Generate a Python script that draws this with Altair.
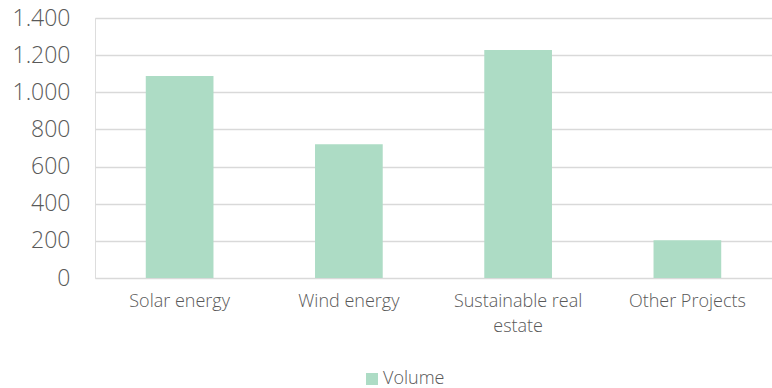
import altair as alt
import pandas as pd

categories = ["Solar energy", "Wind energy", "Sustainable real estate", "Other Projects"]
volume = [1088, 720, 1228, 203]
series_name = "Volume"

df = pd.DataFrame({"category": categories, "value": volume, "series": [series_name] * len(categories)})

FONT = "Open Sans"
TEXT = "#595959"
GRID = "#d9d9d9"
BAR = "#addcc5"

bars = alt.Chart(df).mark_bar(color=BAR).encode(
    x=alt.X(
        "category:N",
        sort=categories,
        title=None,
        scale=alt.Scale(paddingInner=0.6, paddingOuter=0.3),
        axis=alt.Axis(
            labelAngle=0,
            labelFont=FONT,
            labelFontWeight=300,
            labelFontSize=18,
            labelColor=TEXT,
            labelPadding=14,
            labelLineHeight=25,
            ticks=False,
            domain=False,
            grid=False,
            labelExpr="datum.label == 'Sustainable real estate' ? ['Sustainable real', 'estate'] : datum.label",
        ),
    ),
    y=alt.Y(
        "value:Q",
        title=None,
        scale=alt.Scale(domain=[0, 1400]),
        axis=alt.Axis(
            values=[0, 200, 400, 600, 800, 1000, 1200, 1400],
            labelFont=FONT,
            labelFontWeight=300,
            labelFontSize=23,
            labelColor=TEXT,
            labelPadding=25,
            ticks=False,
            domain=False,
            gridColor=GRID,
            gridWidth=1.5,
            labelExpr="replace(format(datum.value, ','), ',', '.')",
        ),
    ),
    fill=alt.Fill(
        "series:N",
        scale=alt.Scale(range=[BAR]),
        legend=alt.Legend(
            title=None,
            orient="none",
            legendX=268,
            legendY=352,
            symbolType="square",
            symbolSize=144,
            symbolStrokeWidth=0,
            labelFont=FONT,
            labelFontWeight=300,
            labelFontSize=18,
            labelColor=TEXT,
            labelOffset=2,
        ),
    ),
)

chart = bars.properties(
    width=677,
    height=260,
    autosize=alt.AutoSizeParams(type="none"),
    padding={"left": 95, "top": 18, "right": 0, "bottom": 110},
).configure_view(stroke=None).configure(background="white")

chart.save("out.html", embed_options={"renderer": "svg", "actions": False})
